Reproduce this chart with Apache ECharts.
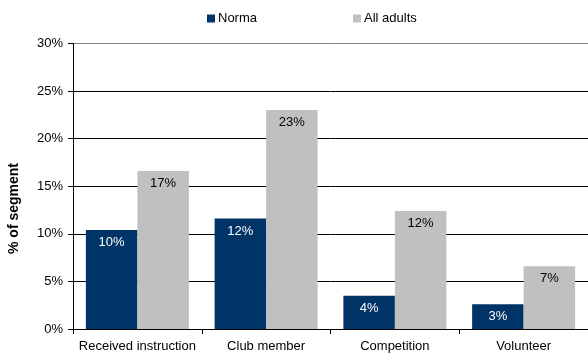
<!DOCTYPE html>
<html>
<head>
<meta charset="utf-8">
<script src="https://cdn.jsdelivr.net/npm/echarts@6/dist/echarts.min.js"></script>
<style>
  html, body { margin: 0; padding: 0; background: #fff; }
  #chart { width: 588px; height: 356px; }
</style>
</head>
<body>
<div id="chart"></div>
<script>
// Participation by activity, Norma segment vs. all adults (% of segment)
const categories = ['Received instruction', 'Club member', 'Competition', 'Volunteer'];
const normaValues = [10.4, 11.6, 3.5, 2.6];
const allAdultsValues = [16.6, 23.0, 12.4, 6.6];
const yTicks = [0, 5, 10, 15, 20, 25, 30];

const FONT = 'Liberation Sans, Arial, sans-serif';
const chart = echarts.init(document.getElementById('chart'), null, { renderer: 'canvas' });

const pctLabel = (color) => ({
  show: true,
  position: 'insideTop',
  distance: 6,
  color: color,
  fontFamily: FONT,
  fontSize: 13,
  formatter: (p) => Math.round(p.value) + '%'
});

chart.setOption({
  animation: false,
  textStyle: { fontFamily: FONT },
  legend: {
    top: 7,
    left: 202,
    padding: [5, 5],
    itemWidth: 8,
    itemHeight: 8,
    itemGap: 96,
    icon: 'rect',
    textStyle: { fontFamily: FONT, fontSize: 13, color: '#000', padding: [0, 0, 0, -2] },
    data: ['Norma', 'All adults']
  },
  grid: { left: 73, right: 0, top: 43.5, bottom: 27, containLabel: false },
  xAxis: {
    type: 'category',
    data: categories,
    axisLine: { lineStyle: { color: '#000', width: 1 } },
    axisTick: { show: true, interval: 0, length: 5, lineStyle: { color: '#000' } },
    axisLabel: { interval: 0, color: '#000', fontFamily: FONT, fontSize: 13, margin: 11 }
  },
  yAxis: {
    type: 'value',
    min: yTicks[0],
    max: yTicks[yTicks.length - 1],
    interval: 5,
    axisLine: { show: true, lineStyle: { color: '#000', width: 1 } },
    axisTick: { show: true, length: 5, inside: false, lineStyle: { color: '#000' } },
    axisLabel: { color: '#000', fontFamily: FONT, fontSize: 13, margin: 10, formatter: '{value}%' },
    splitLine: {
      show: true,
      lineStyle: { color: ['#000', '#000', '#000', '#000', '#000', '#000', '#808080'], width: 1 }
    }
  },
  graphic: [{
    type: 'text',
    left: 7,
    top: 163,
    rotation: Math.PI / 2,
    style: {
      text: '% of segment',
      fontFamily: FONT,
      fontSize: 14,
      fontWeight: 'bold',
      fill: '#000'
    },
    z: 10
  }],
  series: [
    {
      name: 'Norma',
      type: 'bar',
      data: normaValues,
      barGap: '0%',
      barCategoryGap: '20%',
      itemStyle: { color: '#003366' },
      label: pctLabel('#fff')
    },
    {
      name: 'All adults',
      type: 'bar',
      data: allAdultsValues,
      barGap: '0%',
      barCategoryGap: '20%',
      itemStyle: { color: '#c0c0c0' },
      label: pctLabel('#000')
    }
  ]
});
</script>
</body>
</html>
